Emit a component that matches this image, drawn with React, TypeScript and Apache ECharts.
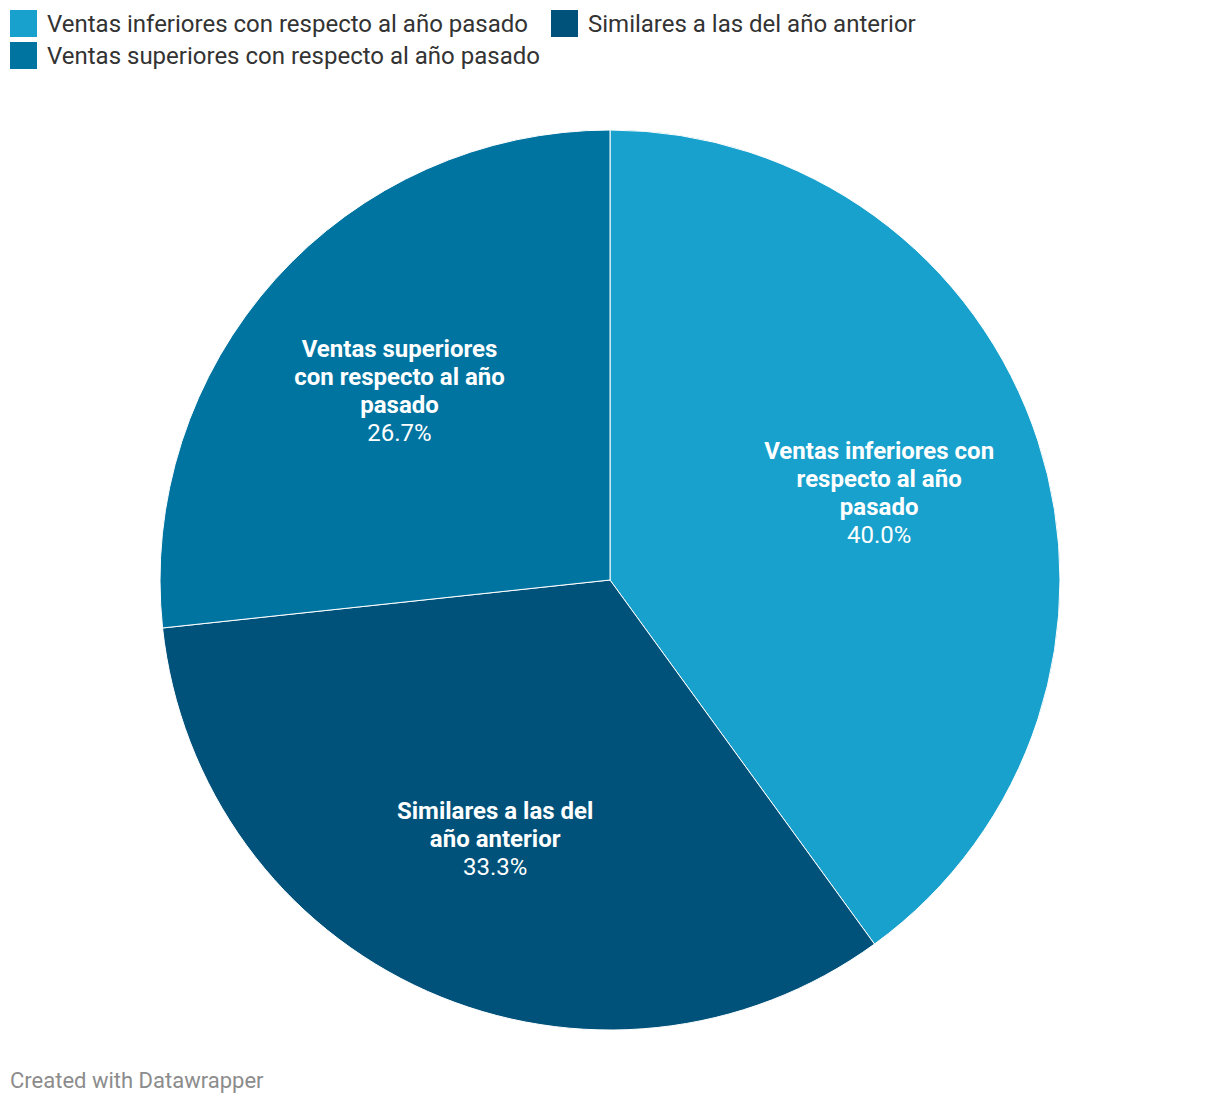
import React, { useEffect, useRef } from "react";
import * as echarts from "echarts";

const categories = [
  "Ventas inferiores con respecto al año pasado",
  "Similares a las del año anterior",
  "Ventas superiores con respecto al año pasado",
];
const labelLines = [
  "Ventas inferiores con\nrespecto al año\npasado",
  "Similares a las del\naño anterior",
  "Ventas superiores\ncon respecto al año\npasado",
];
const values = [40.0, 33.3, 26.7];
const colors = ["#18a1cd", "#00527a", "#0074a1"];
const footer = "Created with Datawrapper";

export default function App() {
  const ref = useRef<HTMLDivElement>(null);
  useEffect(() => {
    document.body.style.margin = "0";
    const chart = echarts.init(ref.current!, null, { renderer: "svg" });
    const font = "Roboto, 'Noto Sans', sans-serif";
    const colored = categories.map((c, i) => ({
      name: c,
      value: values[i],
      itemStyle: { color: colors[i] },
    }));
    const labelData = categories.map((c, i) => ({
      name: c,
      value: values[i],
      label: {
        formatter: () =>
          labelLines[i]
            .split("\n")
            .map((l) => `{b|${l}}`)
            .join("\n") + `\n{v|${values[i].toFixed(1)}%}`,
      },
    }));
    const legendCommon = {
      left: 10,
      padding: 0,
      itemWidth: 27,
      itemHeight: 27,
      itemGap: 23,
      icon: "rect",
      itemStyle: { borderWidth: 0 },
      textStyle: {
        fontFamily: font,
        fontSize: 24,
        color: "#333333",
        padding: [0, 0, 0, 5],
      },
      selectedMode: false,
    };
    chart.setOption({
      animation: false,
      legend: [
        { ...legendCommon, top: 10, data: [categories[0], categories[1]] },
        { ...legendCommon, top: 42, data: [categories[2]] },
      ],
      series: [
        {
          type: "pie",
          center: [610, 580],
          radius: 450,
          startAngle: 90,
          clockwise: true,
          label: { show: false },
          labelLine: { show: false },
          itemStyle: { borderColor: "#ffffff", borderWidth: 1 },
          emphasis: { disabled: true },
          data: colored,
        },
        {
          type: "pie",
          center: [610, 580],
          radius: [110, 450],
          startAngle: 90,
          clockwise: true,
          silent: true,
          legendHoverLink: false,
          itemStyle: { color: "transparent" },
          labelLine: { show: false },
          emphasis: { disabled: true },
          label: {
            show: true,
            position: "inside",
            align: "center",
            rich: {
              b: {
                fontFamily: font,
                fontSize: 24,
                fontWeight: "bold",
                color: "#ffffff",
                lineHeight: 28,
                align: "center",
              },
              v: {
                fontFamily: font,
                fontSize: 24,
                color: "#ffffff",
                lineHeight: 28,
                align: "center",
              },
            },
          },
          data: labelData,
        },
      ],
      graphic: [
        {
          type: "text",
          left: 10,
          top: 1069,
          style: {
            text: footer,
            fontFamily: font,
            fontSize: 22,
            fill: "#8c8c8c",
          },
        },
      ],
    });
    return () => chart.dispose();
  }, []);
  return <div ref={ref} style={{ width: 1220, height: 1106 }} />;
}
